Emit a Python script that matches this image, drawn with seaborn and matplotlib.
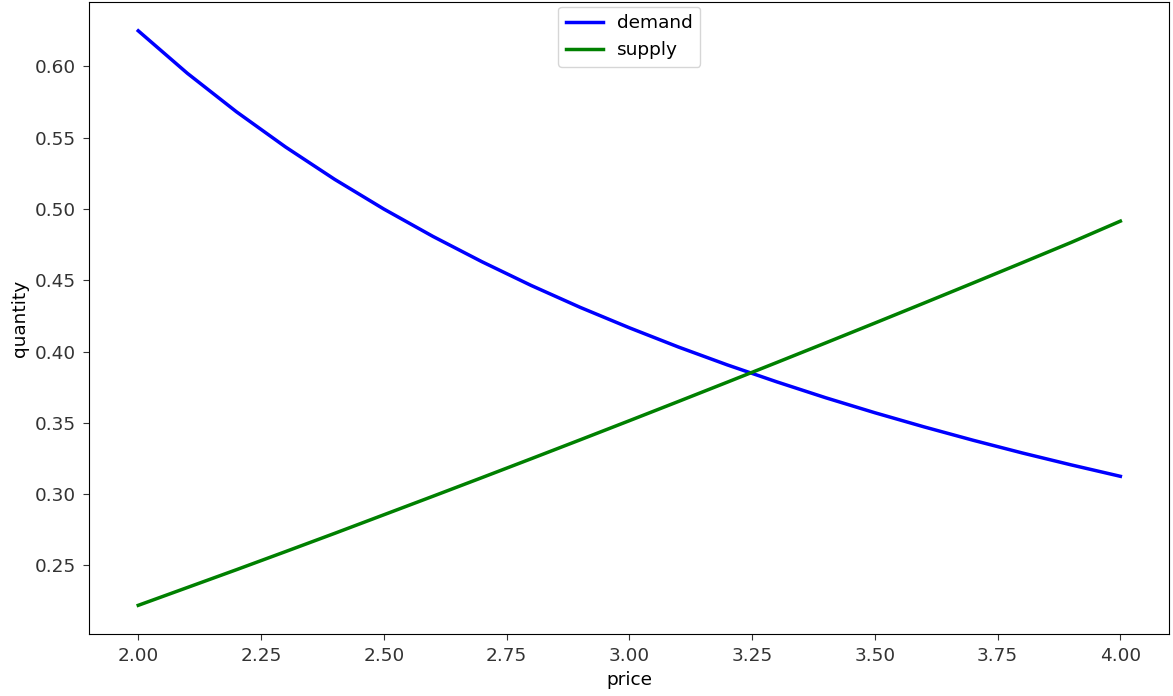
import seaborn as sns
import matplotlib.pyplot as plt
import pandas as pd

plt.rcParams['font.size'] = 13.3

# valores
price = [2.0, 2.1, 2.2, 2.3, 2.4, 2.5, 2.6, 2.7, 2.8, 2.9, 3.0,
         3.1, 3.2, 3.3, 3.4, 3.5, 3.6, 3.7, 3.8, 3.9, 4.0]
demand = [0.625, 0.5952, 0.5682, 0.5435, 0.5208, 0.5, 0.4808, 0.463, 0.4464, 0.431, 0.4167,
          0.4032, 0.3906, 0.3788, 0.3676, 0.3571, 0.3472, 0.3378, 0.3289, 0.3205, 0.3125]
supply = [0.222, 0.2345, 0.247, 0.2597, 0.2725, 0.2855, 0.2985, 0.3116, 0.3248, 0.3381, 0.3515,
          0.365, 0.3786, 0.3923, 0.4061, 0.42, 0.434, 0.4481, 0.4623, 0.4766, 0.4915]

df = pd.DataFrame({'price': price, 'demand': demand, 'supply': supply})

fig, ax = plt.subplots(figsize=(11.73, 6.96), dpi=100)
sns.lineplot(x='price', y='demand', data=df, color='blue', linewidth=2.5, label='demand', ax=ax)
sns.lineplot(x='price', y='supply', data=df, color='green', linewidth=2.5, label='supply', ax=ax)

ax.set_xlabel('price')
ax.set_ylabel('quantity')
ax.set_xticks([2.0, 2.25, 2.5, 2.75, 3.0, 3.25, 3.5, 3.75, 4.0])
ax.set_yticks([0.25, 0.30, 0.35, 0.40, 0.45, 0.50, 0.55, 0.60])
ax.tick_params(length=4.5, pad=5, colors='#333333')
ax.legend(loc='upper center', borderaxespad=0.25, labelspacing=0.5)

plt.subplots_adjust(left=0.076, right=0.997, top=0.997, bottom=0.089)
plt.savefig('out.png')
